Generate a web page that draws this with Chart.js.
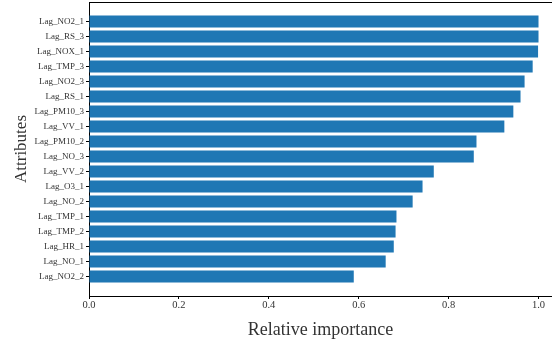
<!DOCTYPE html>
<html>
<head>
<meta charset="utf-8">
<script src="https://cdn.jsdelivr.net/npm/chart.js@4"></script>
<style>
  html, body { margin: 0; padding: 0; background: #fff; overflow: hidden; }
  canvas { display: block; }
</style>
</head>
<body>
<canvas id="myChart" width="552" height="341"></canvas>
<script>
const attributes = ["Lag_NO2_1", "Lag_RS_3", "Lag_NOX_1", "Lag_TMP_3", "Lag_NO2_3", "Lag_RS_1",
    "Lag_PM10_3", "Lag_VV_1", "Lag_PM10_2", "Lag_NO_3", "Lag_VV_2", "Lag_O3_1",
    "Lag_NO_2", "Lag_TMP_1", "Lag_TMP_2", "Lag_HR_1", "Lag_NO_1", "Lag_NO2_2"];
const importance = [1.0, 1.0, 0.999, 0.987, 0.969, 0.96, 0.944, 0.924, 0.862, 0.856,
    0.767, 0.742, 0.72, 0.684, 0.682, 0.678, 0.66, 0.589];
const xTicks = [0, 0.2, 0.4, 0.6, 0.8, 1.0];

const serif = "'Liberation Serif', 'DejaVu Serif', serif";

// top frame line (box without the right edge)
const topSpine = {
    id: "topSpine",
    afterDraw(chart) {
        const { ctx, chartArea } = chart;
        ctx.save();
        ctx.strokeStyle = "#000";
        ctx.lineWidth = 1;
        ctx.beginPath();
        ctx.moveTo(chartArea.left, chartArea.top + 0.5);
        ctx.lineTo(chartArea.right, chartArea.top + 0.5);
        ctx.stroke();
        ctx.restore();
    },
};

const ctx = document.getElementById("myChart").getContext("2d");
new Chart(ctx, {
    type: "bar",
    data: {
        datasets: [
            {
                label: "Relative importance",
                data: importance.map((v, i) => ({ x: v, y: i })),
                backgroundColor: "#1f77b4",
                borderWidth: 0,
                categoryPercentage: 0.8,
                barPercentage: 1.0,
            },
        ],
    },
    options: {
        responsive: false,
        animation: false,
        indexAxis: "y",
        layout: { padding: { top: 2, left: 0, right: 0, bottom: 0 } },
        scales: {
            x: {
                type: "linear",
                min: 0,
                max: 1.03,
                afterBuildTicks: (scale) => { scale.ticks = xTicks.map((v) => ({ value: v })); },
                afterFit: (scale) => { scale.height = 45; },
                ticks: {
                    color: "#333",
                    font: { family: serif, size: 10.5 },
                    padding: 0,
                    callback: (v) => v.toFixed(1),
                },
                grid: { display: true, drawOnChartArea: false, drawTicks: true, tickLength: 3, color: "#000" },
                border: { display: true, color: "#000", width: 1 },
                title: {
                    display: true,
                    text: "Relative importance",
                    color: "#333",
                    font: { family: serif, size: 18 },
                    padding: { top: 1, bottom: 0 },
                },
            },
            y: {
                type: "linear",
                reverse: true,
                offset: false,
                min: -1.3,
                max: 18.3,
                afterBuildTicks: (scale) => { scale.ticks = attributes.map((_, i) => ({ value: i })); },
                afterFit: (scale) => {
                    scale.width = 89;
                    // tick labels sit well inside the range, no extra room needed
                    scale.paddingTop = 0;
                    scale.paddingBottom = 0;
                },
                ticks: {
                    autoSkip: false,
                    color: "#333",
                    font: { family: serif, size: 9 },
                    padding: 2,
                    callback: (v) => attributes[v],
                },
                grid: { display: true, offset: false, drawOnChartArea: false, drawTicks: true, tickLength: 3, color: "#000" },
                border: { display: true, color: "#000", width: 1 },
                title: {
                    display: true,
                    text: "Attributes",
                    color: "#333",
                    font: { family: serif, size: 17 },
                    padding: { top: 11, bottom: 0 },
                },
            },
        },
        plugins: {
            legend: { display: false },
            tooltip: { enabled: false },
        },
    },
    plugins: [topSpine],
});
</script>
</body>
</html>
